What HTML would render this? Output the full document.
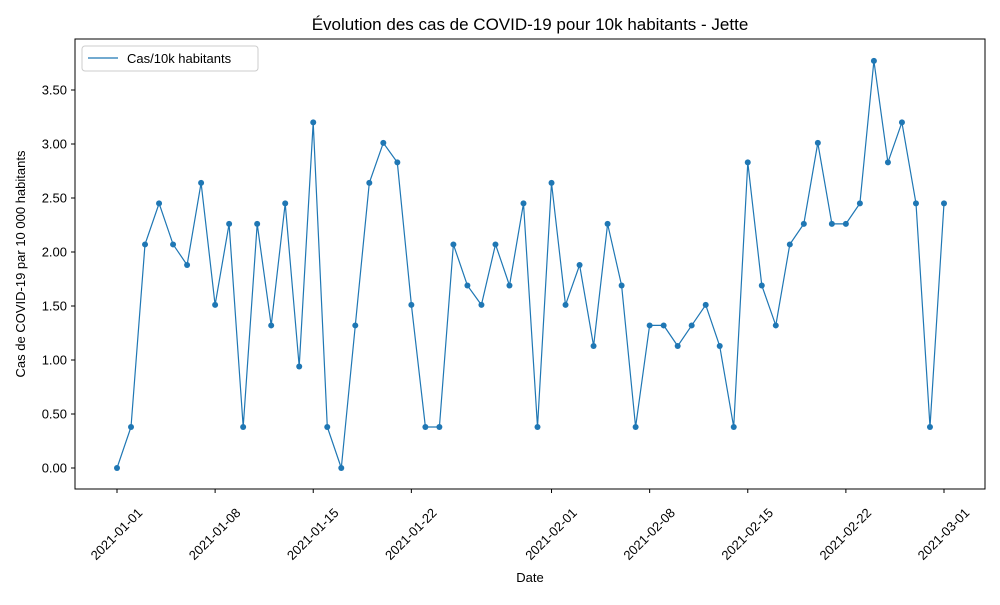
<!DOCTYPE html>
<html><head><meta charset="utf-8"><style>body{margin:0;background:#fff}svg{font-family:"Liberation Sans","DejaVu Sans",sans-serif}</style></head>
<body>
<svg id="chart" width="1000" height="600" xmlns="http://www.w3.org/2000/svg">
<rect width="1000" height="600" fill="#fff"/>
<text x="530" y="30" font-size="17" text-anchor="middle">Évolution des cas de COVID-19 pour 10k habitants - Jette</text>
<text x="530" y="582" font-size="13" text-anchor="middle">Date</text>
<text transform="translate(25,264) rotate(-90)" font-size="13" text-anchor="middle">Cas de COVID-19 par 10 000 habitants</text>
<g id="axes"></g>
<g id="marks"></g>
<rect x="75" y="39" width="910" height="450" fill="none" stroke="#000" stroke-width="1"/>
<g>
<rect x="82" y="46" width="176" height="25" rx="3" fill="#fff" stroke="#ccc"/>
<line x1="88" y1="58" x2="118" y2="58" stroke="#1f77b4" stroke-width="1.2"/>
<text x="127" y="63" font-size="13">Cas/10k habitants</text>
</g>
</svg>
<script>
const values=[0,0.38,2.07,2.45,2.07,1.88,2.64,1.51,2.26,0.38,2.26,1.32,2.45,0.94,3.20,0.38,0,1.32,2.64,3.01,2.83,1.51,0.38,0.38,2.07,1.69,1.51,2.07,1.69,2.45,0.38,2.64,1.51,1.88,1.13,2.26,1.69,0.38,1.32,1.32,1.13,1.32,1.51,1.13,0.38,2.83,1.69,1.32,2.07,2.26,3.01,2.26,2.26,2.45,3.77,2.83,3.20,2.45,0.38,2.45];
const startDate="2021-01-01";
const xTickLabels=["2021-01-01","2021-01-08","2021-01-15","2021-01-22","2021-02-01","2021-02-08","2021-02-15","2021-02-22","2021-03-01"];
const yTicks=[0,0.5,1,1.5,2,2.5,3,3.5];
const NS="http://www.w3.org/2000/svg";
const d0=Date.parse(startDate);
function dayOf(s){return (Date.parse(s)-d0)/86400000;}
function xs(d){return 117+d*(827/59);}
function ys(v){return 468-v*108;}
function mk(t,a,p){const e=document.createElementNS(NS,t);for(const k in a)e.setAttribute(k,a[k]);p.appendChild(e);return e;}
const ax=document.getElementById('axes'),mg=document.getElementById('marks');
yTicks.forEach(v=>{const y=ys(v);
const l=mk('line',{x1:71,x2:75,y1:y,y2:y,stroke:'#000'},ax);


const t=mk('text',{x:67,y:y+4.5,'font-size':13,'text-anchor':'end'},ax);t.textContent=v.toFixed(2);

});
xTickLabels.forEach(s=>{const x=xs(dayOf(s));
const l=mk('line',{x1:x,x2:x,y1:489,y2:493,stroke:'#000'},ax);


const t=mk('text',{x:0,y:4.5,'font-size':13,'text-anchor':'middle',transform:`translate(${x-0.5},${534}) rotate(-45)`},ax);t.textContent=s;

});
const pts=values.map((v,i)=>xs(i).toFixed(1)+','+ys(v).toFixed(1)).join(' ');
const pl=mk('polyline',{points:pts,fill:'none',stroke:'#1f77b4','stroke-width':1.2},mg);


values.forEach((v,i)=>{const c=mk('circle',{cx:xs(i),cy:ys(v),r:3,fill:'#1f77b4'},mg);

});
</script>
</body></html>
